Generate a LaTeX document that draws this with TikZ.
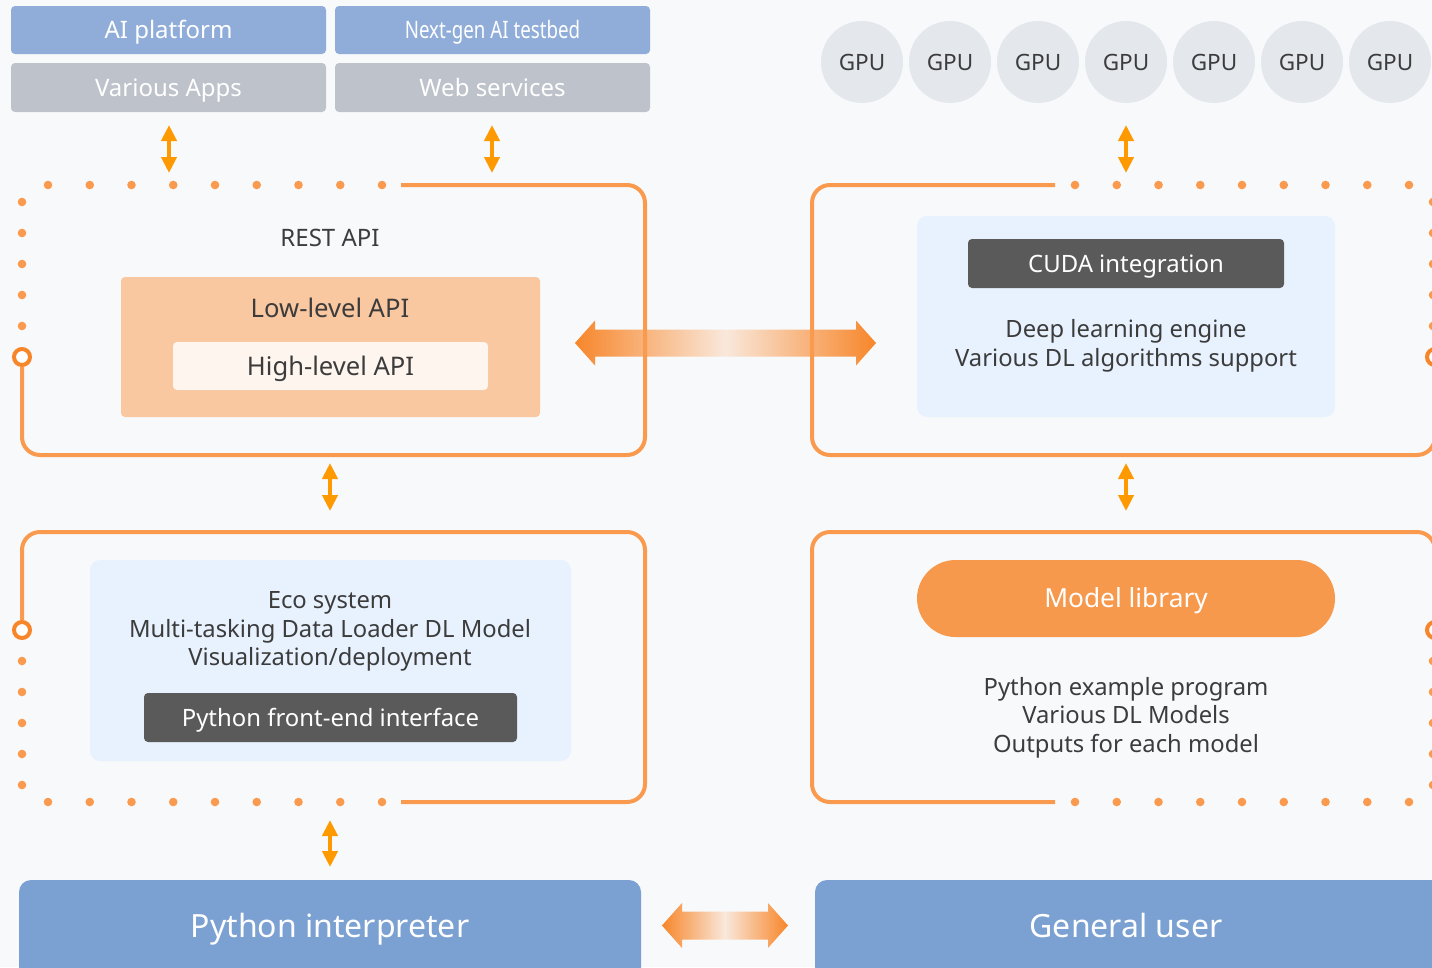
\documentclass[tikz,border=0pt]{standalone}
\usepackage{fontspec}
\setmainfont{Noto Sans}
\usetikzlibrary{arrows.meta,calc}
\definecolor{bgc}{HTML}{F8F9FB}
\definecolor{topblue}{HTML}{8FADD8}
\definecolor{topgray}{HTML}{BEC2CA}
\definecolor{gpuc}{HTML}{E4E7EC}
\definecolor{framec}{HTML}{F99A4E}
\definecolor{ringc}{HTML}{F7862A}
\definecolor{arrc}{HTML}{FF9900}
\definecolor{lowc}{HTML}{F9C7A0}
\definecolor{highc}{HTML}{FEF5EF}
\definecolor{lblue}{HTML}{E8F2FE}
\definecolor{darkc}{HTML}{5A5A5A}
\definecolor{modelc}{HTML}{F7994D}
\definecolor{botblue}{HTML}{7BA0D2}
\definecolor{txtc}{HTML}{3C3C3C}
\definecolor{gdark}{HTML}{F7862A}
\definecolor{glight}{HTML}{F9E8DB}
\begin{document}
\begin{tikzpicture}[x=1pt,y=-1pt,
  box/.style={rounded corners=4pt, inner sep=0pt, anchor=center},
  ftop/.style={text=white, font=\fontsize{24}{28}\selectfont, text height=17.1pt, text depth=0pt},
  fbody/.style={text=txtc, font=\fontsize{24}{28}\selectfont, text height=17.1pt, text depth=0pt, inner sep=0pt},
  fapi/.style={text=txtc, font=\fontsize{25.6}{30}\selectfont, text height=18.3pt, text depth=0pt, inner sep=0pt},
  fdark/.style={text=white, font=\fontsize{23.9}{28}\selectfont, text height=17.1pt, text depth=0pt},
  fmodel/.style={text=white, font=\fontsize{26.3}{30}\selectfont, text height=18.8pt, text depth=0pt},
  fbig/.style={text=white, font=\fontsize{32}{36}\selectfont, text height=22.8pt, text depth=0pt, inner sep=0pt},
  multitxt/.style={text=txtc, font=\fontsize{23.8}{28.5}\selectfont, align=center, inner sep=0pt},
  gpubox/.style={circle, fill=gpuc, minimum size=82pt, inner sep=0pt, text=txtc, font=\fontsize{22.5}{27}\selectfont, text height=16.1pt, text depth=0pt},
  framepath/.style={draw=framec, line width=4pt, rounded corners=18pt},
  dotc/.style={fill=framec},
  ring/.style={draw=ringc, line width=4pt, fill=white},
  varrow/.style={draw=arrc, line width=4pt, {Triangle[width=15pt,length=16pt]}-{Triangle[width=15pt,length=16pt]}},
  bigarrow/.style={left color=gdark, right color=gdark, middle color=glight}
]
\useasboundingbox[fill=bgc] (0,0) rectangle (1432,967);

% top boxes
\node[box, fill=topblue, minimum width=315pt, minimum height=48pt, ftop] (aip) at (168.5,30) {AI platform};
\node[box, fill=topblue, minimum width=315pt, minimum height=48pt, ftop] (ngt) at (492.5,30) {\scalebox{0.78}[1]{Next-gen AI testbed}};
\node[box, fill=topgray, minimum width=315pt, minimum height=49pt, ftop] (apps) at (168.5,87.5) {Various Apps};
\node[box, fill=topgray, minimum width=315pt, minimum height=49pt, ftop] (web) at (492.5,87.5) {Web services};

% GPUs
\foreach \i in {0,...,6} {
  \node[gpubox] (gpu\i) at ({862+88*\i},62) {GPU};
}

% small vertical arrows
\coordinate (v1a) at (169,125); \coordinate (v1b) at (169,173);
\coordinate (v2a) at (492,125); \coordinate (v2b) at (492,173);
\coordinate (v3a) at (1126,125); \coordinate (v3b) at (1126,173);
\coordinate (v4a) at (330,463); \coordinate (v4b) at (330,511);
\coordinate (v5a) at (1126,463); \coordinate (v5b) at (1126,511);
\coordinate (v6a) at (330,820); \coordinate (v6b) at (330,867);
\draw[varrow] (v1a) -- (v1b);
\draw[varrow] (v2a) -- (v2b);
\draw[varrow] (v3a) -- (v3b);
\draw[varrow] (v4a) -- (v4b);
\draw[varrow] (v5a) -- (v5b);
\draw[varrow] (v6a) -- (v6b);

% big horizontal arrow (middle)
\coordinate (hL) at (575,343); \coordinate (hR) at (876,343);
\shade[bigarrow] (hL) -- ($(hL)+(20,-22.5)$) -- ($(hL)+(20,-13.5)$) -- ($(hR)+(-20,-13.5)$) -- ($(hR)+(-20,-22.5)$) -- (hR)
  -- ($(hR)+(-20,22.5)$) -- ($(hR)+(-20,13.5)$) -- ($(hL)+(20,13.5)$) -- ($(hL)+(20,22.5)$) -- cycle;

% bottom horizontal arrow
\coordinate (bL) at (662,925.5); \coordinate (bR) at (788,925.5);
\shade[bigarrow] (bL) -- ($(bL)+(20,-22.5)$) -- ($(bL)+(20,-14)$) -- ($(bR)+(-20,-14)$) -- ($(bR)+(-20,-22.5)$) -- (bR)
  -- ($(bR)+(-20,22.5)$) -- ($(bR)+(-20,14)$) -- ($(bL)+(20,14)$) -- ($(bL)+(20,22.5)$) -- cycle;

% ---- top-left frame
\draw[framepath] (401,185) -- (645,185) -- (645,455) -- (22,455) -- (22,367);
\foreach \i in {0,...,8} \fill[dotc] ({48+41.75*\i},185) circle (4.3pt);
\foreach \j in {0,...,4} \fill[dotc] (22,{202+31*\j}) circle (4.3pt);
\draw[ring] (22,357) circle (8pt);

\node[fbody] (rest) at (330,238) {REST API};
\node[box, fill=lowc, minimum width=419pt, minimum height=140pt] (low) at (330.5,347) {};
\node[fapi] (lowt) at (330,308.5) {Low-level API};
\node[box, fill=highc, minimum width=315pt, minimum height=48pt, fapi] (high) at (330.5,366) {High-level API};

% ---- top-right frame
\draw[framepath] (1055,185) -- (812,185) -- (812,455) -- (1435,455) -- (1435,367);
\foreach \i in {0,...,8} \fill[dotc] ({1075+41.75*\i},185) circle (4.3pt);
\foreach \j in {0,...,4} \fill[dotc] (1433,{202+31*\j}) circle (4.3pt);
\draw[ring] (1435,357) circle (8pt);

\node[box, fill=lblue, rounded corners=10pt, minimum width=418pt, minimum height=201pt] (eng) at (1126,316.5) {};
\node[box, fill=darkc, minimum width=316pt, minimum height=49pt, fdark] (cuda) at (1126,263.5) {CUDA integration};
\node[multitxt] (engt) at (1126,346) {Deep learning engine\\Various DL algorithms support};

% ---- bottom-left frame
\draw[framepath] (22,620) -- (22,532) -- (645,532) -- (645,802) -- (401,802);
\foreach \i in {0,...,8} \fill[dotc] ({48+41.75*\i},802) circle (4.3pt);
\foreach \j in {0,...,4} \fill[dotc] (22,{661+31*\j}) circle (4.3pt);
\draw[ring] (22,630) circle (8pt);

\node[box, fill=lblue, rounded corners=10pt, minimum width=481pt, minimum height=201pt] (eco) at (330.5,660.5) {};
\node[multitxt] (ecot) at (330,631.5) {Eco system\\Multi-tasking Data Loader DL Model\\Visualization/deployment};
\node[box, fill=darkc, minimum width=373pt, minimum height=49pt, fdark] (pfe) at (330.5,717.5) {Python front-end interface};

% ---- bottom-right frame
\draw[framepath] (1435,620) -- (1435,532) -- (812,532) -- (812,802) -- (1055,802);
\foreach \i in {0,...,8} \fill[dotc] ({1075+41.75*\i},802) circle (4.3pt);
\foreach \j in {0,...,4} \fill[dotc] (1433,{661+31*\j}) circle (4.3pt);
\draw[ring] (1435,630) circle (8pt);

\node[box, fill=modelc, rounded corners=38.5pt, minimum width=418pt, minimum height=77pt, fmodel] (model) at (1126,598.5) {Model library};
\node[multitxt] (modt) at (1126,717.5) {Python example program\\Various DL Models\\Outputs for each model};

% ---- bottom boxes
\node[box, fill=botblue, rounded corners=12pt, minimum width=622pt, minimum height=110pt] (pyi) at (330,935) {};
\node[fbig] (pyit) at (330,926) {Python interpreter};
\node[box, fill=botblue, rounded corners=12pt, minimum width=640pt, minimum height=110pt] (gen) at (1135,935) {};
\node[fbig] (gent) at (1126,926) {General user};
\end{tikzpicture}
\end{document}
